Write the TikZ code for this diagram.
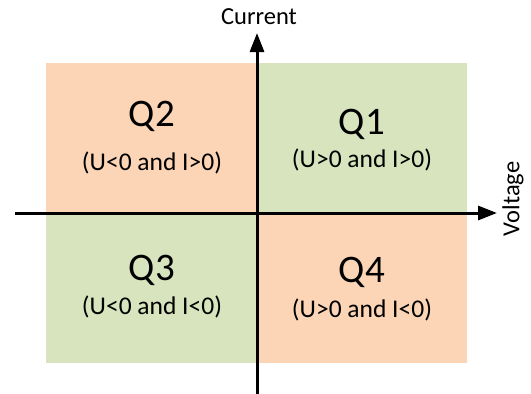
\documentclass[tikz,border=0pt]{standalone}
\usepackage{fontspec}
\setmainfont{Carlito}
\usetikzlibrary{arrows.meta}
\definecolor{quadorange}{RGB}{251,213,181}
\definecolor{quadgreen}{RGB}{215,228,189}
\tikzset{
  quad/.style={draw=none,inner sep=0pt,minimum width=210.5pt,minimum height=150pt,anchor=north west},
  qname/.style={font=\fontsize{39}{39}\selectfont},
  qcond/.style={font=\fontsize{25.5}{25.5}\selectfont},
  axis/.style={line width=3pt,-{Triangle[length=19pt,width=14pt]}},
  axlabel/.style={font=\fontsize{24.5}{24.5}\selectfont}
}
\begin{document}
\begin{tikzpicture}[x=1pt,y=-1pt]
\useasboundingbox (0,0) rectangle (531,394);
\node[quad,fill=quadorange] (q2) at (46,63) {};
\node[quad,fill=quadgreen] (q1) at (256.5,63) {};
\node[quad,fill=quadgreen] (q3) at (46,213) {};
\node[quad,fill=quadorange] (q4) at (256.5,213) {};
\node[qname] (q1name) at (362,124) {Q1};
\node[qcond] (q1cond) at (362,160) {(U>0 and I>0)};
\node[qname] (q2name) at (152,116) {Q2};
\node[qcond] (q2cond) at (152,163) {(U<0 and I>0)};
\node[qname] (q3name) at (152,270) {Q3};
\node[qcond] (q3cond) at (152,307) {(U<0 and I<0)};
\node[qname] (q4name) at (362,272) {Q4};
\node[qcond] (q4cond) at (362,310) {(U>0 and I<0)};
\coordinate (vleft) at (15,213);
\coordinate (vright) at (497,213);
\coordinate (cbottom) at (257,394);
\coordinate (ctop) at (257,33);
\draw[axis] (vleft) -- (vright);
\draw[axis] (cbottom) -- (ctop);
\node[axlabel] (current) at (259,17) {Current};
\node[axlabel,rotate=90] (voltage) at (513,199) {Voltage};
\end{tikzpicture}
\end{document}
